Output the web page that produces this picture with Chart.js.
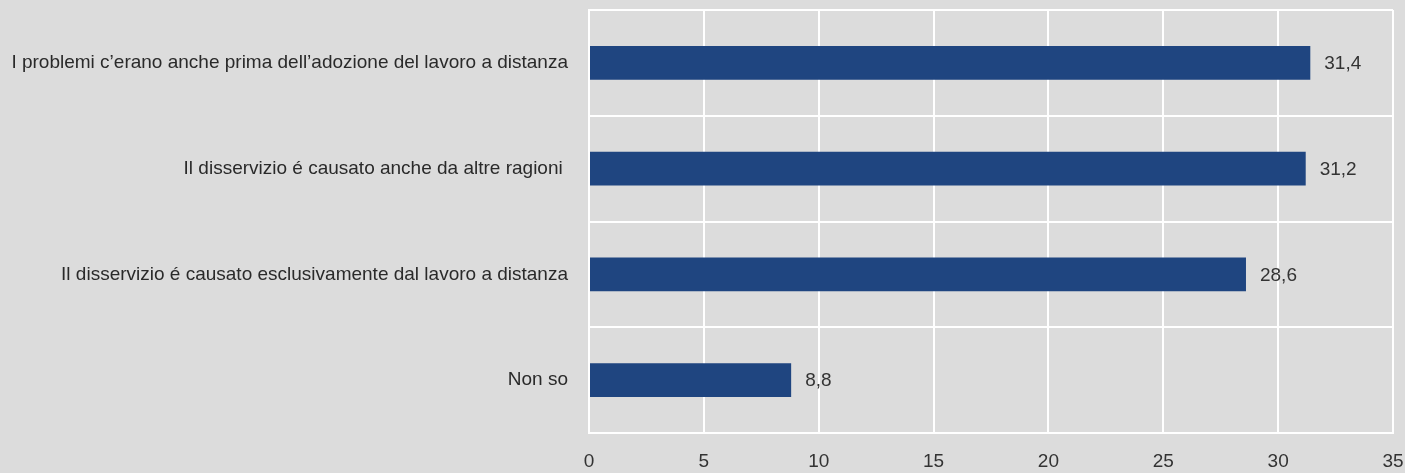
<!DOCTYPE html>
<html>
<head>
<meta charset="utf-8">
<script src="https://cdn.jsdelivr.net/npm/chart.js@4/dist/chart.umd.min.js"></script>
<style>
  html, body { margin: 0; padding: 0; background: #dcdcdc; }
  #wrap { width: 1405px; height: 473px; }
</style>
</head>
<body>
<div id="wrap"><canvas id="c" width="1405" height="473"></canvas></div>
<script>
const categories = [
  "I problemi c\u2019erano anche prima dell\u2019adozione del lavoro a distanza",
  "Il disservizio \u00e9 causato anche da altre ragioni ",
  "Il disservizio \u00e9 causato esclusivamente dal lavoro a distanza",
  "Non so"
];
const values = [31.4, 31.2, 28.6, 8.8];
const xTicks = [0, 5, 10, 15, 20, 25, 30, 35];

const FONT = "'Liberation Sans', Arial, sans-serif";

const valueLabels = {
  id: 'valueLabels',
  afterDatasetsDraw(chart) {
    const ctx = chart.ctx;
    const meta = chart.getDatasetMeta(0);
    ctx.save();
    ctx.font = "19px " + FONT;
    ctx.fillStyle = '#333333';
    ctx.textAlign = 'left';
    ctx.textBaseline = 'middle';
    meta.data.forEach((bar, i) => {
      const txt = values[i].toFixed(1).replace('.', ',');
      ctx.fillText(txt, bar.x + 14, bar.y + 1);
    });
    ctx.restore();
  }
};

new Chart(document.getElementById('c'), {
  type: 'bar',
  data: {
    labels: categories,
    datasets: [{
      data: values,
      backgroundColor: '#1f4580',
      borderWidth: 0,
      categoryPercentage: 1.0,
      barPercentage: 0.32
    }]
  },
  options: {
    indexAxis: 'y',
    responsive: false,
    animation: false,
    layout: { padding: { top: 10, right: 12, left: 0, bottom: 0 } },
    plugins: { legend: { display: false }, tooltip: { enabled: false } },
    scales: {
      x: {
        min: 0, max: 35,
        afterBuildTicks(scale) { scale.ticks = xTicks.map(v => ({ value: v })); },
        afterFit(scale) { scale.height = 40; scale.paddingLeft = 0; scale.paddingRight = 0; },
        grid: { color: '#ffffff', lineWidth: 2, drawTicks: true, tickLength: 17, tickColor: 'rgba(0,0,0,0)' },
        border: { display: true, color: '#ffffff', width: 2 },
        ticks: { padding: 0, color: '#333333', font: { family: FONT, size: 19 } }
      },
      y: {
        afterFit(scale) { scale.width = 589; scale.paddingTop = 0; scale.paddingBottom = 0; },
        grid: { color: '#ffffff', lineWidth: 2, drawTicks: true, tickLength: 21, tickColor: 'rgba(0,0,0,0)', offset: true },
        border: { display: true, color: '#ffffff', width: 2 },
        ticks: { padding: 0, color: '#2a2a2a', font: { family: FONT, size: 19 } }
      }
    }
  },
  plugins: [valueLabels]
});
</script>
</body>
</html>
